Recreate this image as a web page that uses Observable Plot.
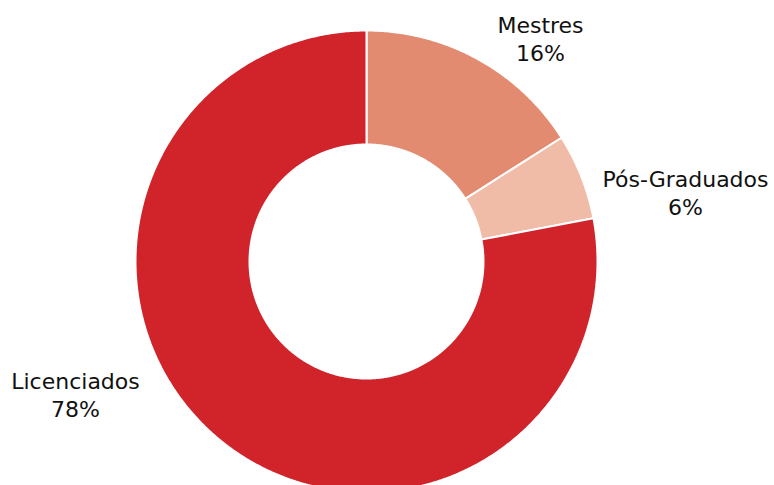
<!DOCTYPE html>
<html>
<head>
<meta charset="utf-8">
<script src="https://cdn.jsdelivr.net/npm/d3@7"></script>
<script src="https://cdn.jsdelivr.net/npm/@observablehq/plot@0.6"></script>
<style>
  html, body { margin: 0; padding: 0; background: #fff; }
</style>
</head>
<body>
<div id="chart"></div>
<script>
// Data
const categories = ["Mestres", "Pós-Graduados", "Licenciados"];
const shares = [16, 6, 78];
const colors = ["#e38b70", "#f0bba7", "#d0232a"];

// Layout constants (pixels)
const W = 774, H = 485;
const cx = 366, cy = 261, rOuter = 231, rInner = 117;
const labelPos = {
  "Mestres": [540, 13],
  "Pós-Graduados": [685, 167],
  "Licenciados": [75, 369]
};

// Build slice outlines from the shares
const total = d3.sum(shares);
const pts = [];
let acc = 0;
categories.forEach((name, i) => {
  const a0 = acc / total * 2 * Math.PI;
  acc += shares[i];
  const a1 = acc / total * 2 * Math.PI;
  const n = Math.max(2, Math.ceil((a1 - a0) / (Math.PI / 360)));
  const ring = [];
  for (let k = 0; k <= n; k++) {
    const a = a0 + (a1 - a0) * k / n;
    ring.push([cx + rOuter * Math.sin(a), cy - rOuter * Math.cos(a)]);
  }
  for (let k = n; k >= 0; k--) {
    const a = a0 + (a1 - a0) * k / n;
    ring.push([cx + rInner * Math.sin(a), cy - rInner * Math.cos(a)]);
  }
  ring.push(ring[0]);
  ring.forEach(([x, y]) => pts.push({name, x, y}));
});

const labels = categories.map((name, i) => ({
  name,
  text: `${name}\n${shares[i]}%`,
  x: labelPos[name][0],
  y: labelPos[name][1]
}));

const chart = Plot.plot({
  width: W,
  height: H,
  margin: 0,
  style: {background: "#fff", fontFamily: "'DejaVu Sans', Verdana, sans-serif"},
  x: {domain: [0, W], range: [0, W], axis: null},
  y: {domain: [0, H], range: [0, H], axis: null},
  color: {domain: categories, range: colors},
  marks: [
    Plot.line(pts, {
      x: "x", y: "y", z: "name",
      fill: "name",
      stroke: "#fff",
      strokeWidth: 2,
      strokeLinejoin: "miter"
    }),
    Plot.text(labels, {
      x: "x", y: "y", text: "text",
      textAnchor: "middle",
      lineAnchor: "top",
      lineHeight: 1.27,
      fontSize: 22,
      fill: "#111"
    })
  ]
});

document.getElementById("chart").appendChild(chart);
</script>
</body>
</html>
